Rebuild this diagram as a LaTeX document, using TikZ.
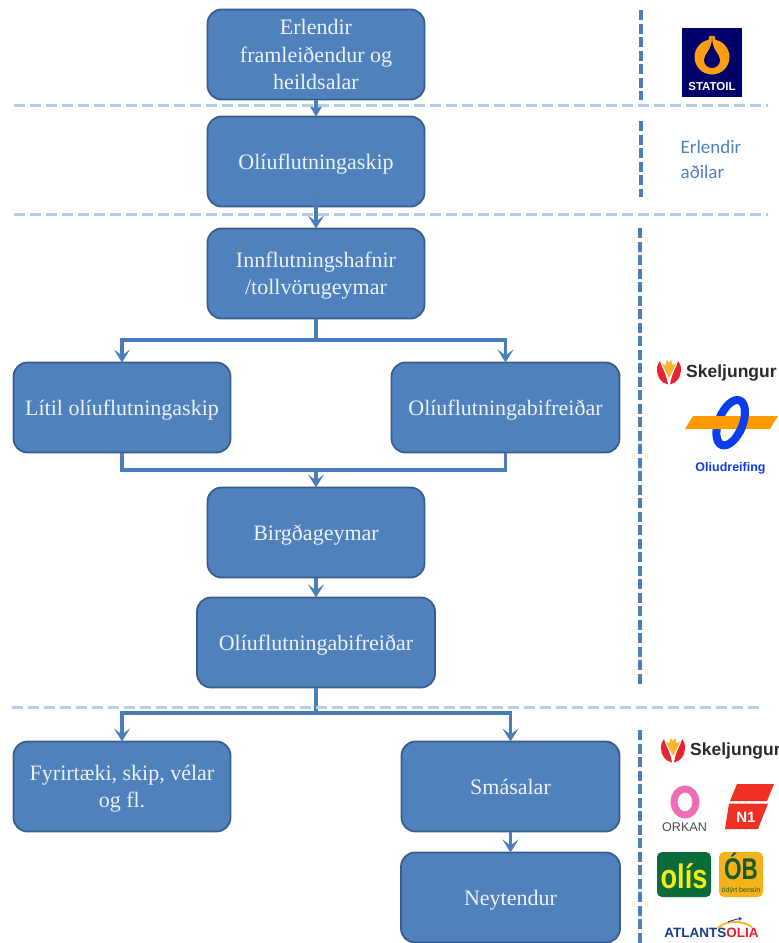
\documentclass[tikz,border=0pt]{standalone}
\usepackage{fontspec}
\setmainfont{Liberation Serif}
\newfontfamily\logofont{Liberation Sans}
\newfontfamily\notefont{Carlito}
\usetikzlibrary{arrows.meta}
\definecolor{boxfill}{HTML}{4F81BD}
\definecolor{boxline}{HTML}{385D8A}
\definecolor{conn}{HTML}{4A7EBB}
\definecolor{sep}{HTML}{B9CDE5}
\definecolor{boxtext}{HTML}{EEF3FA}
\definecolor{stnavy}{HTML}{00006A}
\definecolor{storange}{HTML}{FF9E10}
\definecolor{skred}{HTML}{E8252F}
\definecolor{skyellow}{HTML}{FBB62B}
\definecolor{skdark}{HTML}{2B2B2B}
\definecolor{olblue}{HTML}{0A3CF0}
\definecolor{olorange}{HTML}{FF9A00}
\definecolor{orpink}{HTML}{EE6DB4}
\definecolor{nred}{HTML}{EE3124}
\definecolor{olgreen}{HTML}{0B6B3A}
\definecolor{olyellow}{HTML}{F6EC13}
\definecolor{oborange}{HTML}{F6B21B}
\definecolor{obgreen}{HTML}{145A2A}
\definecolor{atblue}{HTML}{123D8F}
\definecolor{atred}{HTML}{E3202C}
\tikzset{
  flow/.style={draw=boxline,fill=boxfill,line width=1.8pt,rounded corners=14pt,
    minimum height=90pt,inner sep=0pt,outer sep=0pt,align=center,text=boxtext,
    font=\fontsize{22}{27.5}\selectfont},
  conn/.style={draw=conn,line width=3.2pt},
  arrowconn/.style={conn,-{Stealth[length=13pt,width=16pt,inset=6pt]}},
  hsep/.style={draw=sep,line width=3pt,dash pattern=on 11pt off 5pt},
  vsep/.style={draw=conn,line width=3.2pt,dash pattern=on 10pt off 3.5pt},
}
\newcommand{\lw}[1]{\raisebox{-5pt}[10pt][5pt]{#1}}
\newcommand{\skicon}[2]{%
  \begin{scope}[shift={(#1,#2)}]
    \fill[skyellow] (0,6) -- (-7,-8) -- (-3.5,-7) -- (-2.2,-12) -- (0,-9) -- (2.2,-12) -- (3.5,-7) -- (7,-8) -- cycle;
    \fill[skred] (-1,12.5) .. controls (-8,11) and (-12,5) .. (-12,-2) .. controls (-12,-6) and (-11,-9) .. (-9,-11) .. controls (-8,-5) and (-3,0) .. (-1,12.5) -- cycle;
    \fill[skred] (1,12.5) .. controls (8,11) and (12,5) .. (12,-2) .. controls (12,-6) and (11,-9) .. (9,-11) .. controls (8,-5) and (3,0) .. (1,12.5) -- cycle;
  \end{scope}}
\begin{document}
\begin{tikzpicture}[x=1pt,y=-1pt]
\useasboundingbox (0,0) rectangle (779,943);
\begin{scope}
\clip (0,0) rectangle (779,943);
% boxes
\node[flow,minimum width=217pt] (b1) at (316,54.5) {Erlendir\\framleiðendur og\\heildsalar};
\node[flow,minimum width=217pt] (b2) at (316,161.5) {\lw{Olíuflutningaskip}};
\node[flow,minimum width=217pt] (b3) at (316,273.5) {\lw{Innflutningshafnir}\\\lw{/tollvörugeymar}};
\node[flow,minimum width=217pt] (b4) at (122,407.5) {\lw{Lítil olíuflutningaskip}};
\node[flow,minimum width=228pt] (b5) at (505.5,407.5) {\lw{Olíuflutningabifreiðar}};
\node[flow,minimum width=217pt] (b6) at (316,532.5) {\lw{Birgðageymar}};
\node[flow,minimum width=238pt] (b7) at (316,642.5) {\lw{Olíuflutningabifreiðar}};
\node[flow,minimum width=217pt] (b8) at (122,786.5) {\lw{Fyrirtæki, skip, vélar}\\\lw{og fl.}};
\node[flow,minimum width=218pt] (b9) at (510.5,786.5) {\lw{Smásalar}};
\node[flow,minimum width=219pt] (b10) at (510.5,897.5) {\lw{Neytendur}};
% junctions
\coordinate (j1) at (316,340);
\coordinate (j2) at (316,470);
\coordinate (j3) at (316,713);
% connectors
\draw[arrowconn] (b1.south) -- (b2.north);
\draw[arrowconn] ([yshift=9pt]b2.south) -- (b3.north);
\draw[conn] (b3.south) -- (j1);
\draw[arrowconn] (j1) -| (b4.north);
\draw[arrowconn] (j1) -| (b5.north);
\draw[conn] (b4.south) |- (j2);
\draw[conn] (b5.south) |- (j2);
\draw[arrowconn] (j2) -- (b6.north);
\draw[arrowconn] (b6.south) -- (b7.north);
\draw[conn] (b7.south) -- (j3);
\draw[arrowconn] (j3) -| (b8.north);
\draw[arrowconn] (j3) -| (b9.north);
\draw[arrowconn] (b9.south) -- (b10.north);
% separators
\draw[hsep] (14,105) -- (768,105);
\draw[hsep] (14,214) -- (768,214);
\draw[hsep] (12,707) -- (763,707);
\draw[vsep] (641,10) -- (641,100);
\draw[vsep] (641,121) -- (641,197);
\draw[vsep] (640,228) -- (640,684);
\draw[vsep] (640,730) -- (640,943);
% side note
\node[anchor=west,inner sep=0pt,text=boxfill,align=left,font=\notefont\fontsize{19}{25}\selectfont] (note) at (680.5,159.5) {Erlendir\\aðilar};
% Statoil logo
\fill[stnavy] (682,28) rectangle (742,97);
\fill[storange] (712,57) circle (17.5pt);
\fill[storange] (704,43) .. controls (707,42) and (709,41) .. (709.5,36) -- (714.5,36) .. controls (715,41) and (717,42) .. (720,43) -- cycle;
\fill[stnavy] (712,38) .. controls (712,50) and (704,54) .. (704,60) .. controls (704,65) and (708,68) .. (712,68) .. controls (716,68) and (720,65) .. (720,60) .. controls (720,54) and (712,50) .. (712,38) -- cycle;
\node[inner sep=0pt,text=white,font=\logofont\bfseries\fontsize{11.5}{12}\selectfont] (statoil) at (712,87) {STATOIL};
% Skeljungur 1
\skicon{669}{372}
\node[anchor=west,inner sep=0pt,text=skdark,font=\logofont\bfseries\fontsize{17.5}{18}\selectfont] (sk1) at (686,373) {Skeljungur};
% Oliudreifing
\begin{scope}[rotate around={-22:(730.7,422.7)}]
  \draw[olblue,line width=8pt] (730.7,422.7) ellipse (12pt and 24pt);
\end{scope}
\fill[olorange] (693,416) -- (778,416) -- (770,429) -- (685,429) -- cycle;
\begin{scope}
  \clip (733,412) rectangle (760,433);
  \begin{scope}[rotate around={-22:(730.7,422.7)}]
    \draw[olblue,line width=8pt] (730.7,422.7) ellipse (12pt and 24pt);
  \end{scope}
\end{scope}
\node[inner sep=0pt,text=olblue,font=\logofont\bfseries\fontsize{12.5}{13}\selectfont] (olid) at (730.5,468) {Oliudreifing};
% Skeljungur 2
\skicon{673}{750}
\node[anchor=west,inner sep=0pt,text=skdark,font=\logofont\bfseries\fontsize{17.5}{18}\selectfont] (sk2) at (690,751) {Skeljungur};
% Orkan
\draw[orpink,line width=7pt] (685,802) ellipse (11pt and 13pt);
\node[inner sep=0pt,text=black!70,font=\logofont\fontsize{12.6}{13}\selectfont] (orkan) at (684.5,827) {ORKAN};
% N1
\fill[nred] (737,784) -- (774,784) -- (767,801) -- (730,801) -- cycle;
\fill[nred] (729,803.5) -- (768,803.5) -- (758,829) -- (725,829) -- cycle;
\node[inner sep=0pt,text=white,font=\logofont\bfseries\fontsize{15}{16}\selectfont] (n1) at (746,817) {N1};
% Olis
\fill[olgreen,rounded corners=5pt] (657,852) rectangle (711,897);
\node[inner sep=0pt,text=olyellow,font=\logofont\bfseries\fontsize{34}{35}\selectfont] (olis) at (684,876) {\scalebox{.8}[1]{olís}};
% OB
\fill[oborange,rounded corners=5pt] (719,852) rectangle (763,897);
\node[inner sep=0pt,text=obgreen,font=\logofont\bfseries\fontsize{30}{31}\selectfont] (ob) at (741,866) {\scalebox{.75}[1]{ÓB}};
\node[inner sep=0pt,text=obgreen,font=\logofont\fontsize{7}{8}\selectfont] (odyrt) at (741,890.5) {ódýrt bensín};
% Atlantsolia
\node[inner sep=0pt,text=atblue,font=\logofont\bfseries\fontsize{13.5}{14}\selectfont] (atl) at (711.5,933) {ATLANTS\textcolor{atred}{OLIA}};
\draw[skyellow,line width=2pt] (718,928) .. controls (725,921) and (740,919) .. (752,927);
\draw[atblue,line width=.8pt,-{Latex[length=3pt,width=4pt]}] (728,922) .. controls (733,920) and (737,919) .. (742,918.5);
\end{scope}
\end{tikzpicture}
\end{document}
